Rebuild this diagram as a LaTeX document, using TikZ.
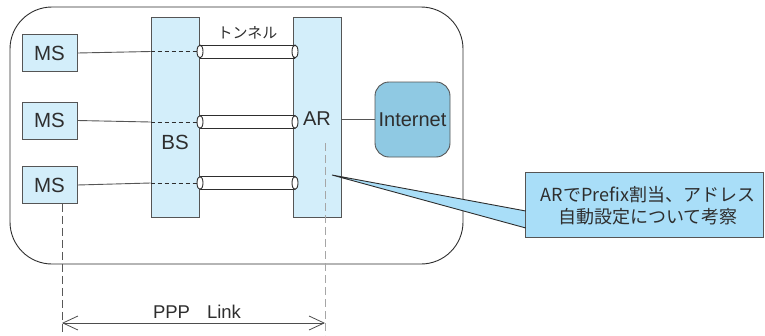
\documentclass[tikz,border=0pt]{standalone}
\usepackage{fontspec}
\setmainfont{Noto Sans CJK JP}
\newfontfamily\latin{Liberation Sans}
\usetikzlibrary{arrows.meta}
\definecolor{boxfill}{HTML}{D3EEFA}
\definecolor{netfill}{HTML}{8FC9E3}
\definecolor{notefill}{HTML}{A9DEF8}
\definecolor{edge}{HTML}{555555}
\definecolor{ink}{HTML}{2E2E2E}
\tikzset{
  lbl/.style={font=\latin\fontsize{20}{24}\selectfont, text=ink, inner sep=0pt},
  msbox/.style={draw=edge, line width=0.9pt, fill=boxfill, minimum width=55pt, minimum height=37pt, inner sep=0pt, font=\latin\fontsize{20.5}{24}\selectfont, text=ink},
  column/.style={draw=edge, line width=0.9pt, fill=boxfill, minimum width=48pt, minimum height=200pt, inner sep=0pt},
  wire/.style={draw=edge, line width=0.9pt},
  hidden/.style={draw=ink, line width=0.9pt, dash pattern=on 4pt off 3pt},
  tubeline/.style={draw=ink, line width=1pt},
  tubeend/.style={draw=ink, line width=0.9pt, fill=white},
  guide/.style={line width=0.8pt, dash pattern=on 8pt off 4pt},
  notetext/.style={inner sep=0pt, align=center, font=\fontsize{18}{22}\selectfont, text=ink},
}
\begin{document}
\begin{tikzpicture}[x=1pt, y=-1pt]
\useasboundingbox (0,0) rectangle (765,335);

% domain boundary
\draw[draw=ink, line width=0.9pt, rounded corners=42pt] (10,7) rectangle (463,264);

% base station and access router columns
\node[column] (bs) at (175,117.5) {};
\node[column] (ar) at (317,117) {};
\node[lbl, font=\latin\fontsize{20.5}{24}\selectfont] (bslabel) at (175,142) {BS};
\node[lbl] (arlabel) at (317,119) {AR};

% mobile stations
\node[msbox] (ms1) at (49.5,53) {MS};
\node[msbox] (ms2) at (49.5,120.5) {MS};
\node[msbox] (ms3) at (49.5,185) {MS};

% internet
\node[draw=edge, line width=0.9pt, fill=netfill, rounded corners=14pt, minimum width=75pt, minimum height=75pt, inner sep=0pt, font=\latin\fontsize{20}{24}\selectfont, text=ink] (net) at (412.5,119.5) {Internet};
\draw[wire] (ar.east |- arlabel) -- (net.west |- arlabel);

% tunnels between BS and AR
\foreach \i/\y in {1/51.5, 2/122, 3/183} {
  \coordinate (tl\i) at (200,\y);
  \coordinate (tr\i) at (295,\y);
  \draw[tubeline] ([yshift=-6.5pt]tl\i) -- ([yshift=-6.5pt]tr\i);
  \draw[tubeline] ([yshift=6.5pt]tl\i) -- ([yshift=6.5pt]tr\i);
  \draw[tubeend] (tr\i) ellipse (3pt and 6.5pt);
  \draw[tubeend] (tl\i) ellipse (3pt and 6.5pt);
}
\node[inner sep=0pt, font=\fontsize{15}{18}\selectfont, text=ink] (tunnel) at (247.5,33) {トンネル};

% links from each MS into the BS
\foreach \i in {1,2,3} {
  \draw[wire] (ms\i.east) -- (bs.west |- tl\i);
  \draw[hidden] (bs.west |- tl\i) -- ([xshift=-3pt]tl\i);
}

% PPP link extent
\coordinate (pppl) at (62,335);
\coordinate (pppr) at (325,335);
\draw[guide, draw=ink!80] (ms3.south -| pppl) -- (pppl);
\coordinate (artop) at (325,143);
\draw[guide, draw=gray!70] (artop) -- (pppr);
\coordinate (al) at (62,323);
\coordinate (arr) at (325,323);
\draw[draw=ink!85, line width=0.9pt, {Straight Barb[length=15pt,width=14pt,line width=0.8pt]}-{Straight Barb[length=15pt,width=14pt,line width=0.8pt]}] (al) -- (arr);
\node[lbl, font=\latin\fontsize{18.5}{22}\selectfont] (ppp) at (197,312) {PPP\hspace{17pt}Link};

% annotation callout
\node[inner sep=0pt, minimum width=237pt, minimum height=64pt] (note) at (644.5,205) {};
\coordinate (tip) at (332,175);
\fill[notefill] (note.north west) -- (note.north east) -- (note.south east) -- (note.south west) -- ([yshift=-6pt]note.west) -- (tip) -- ([yshift=-23pt]note.west) -- cycle;
\draw[draw=edge, line width=0.9pt] ([yshift=-23pt]note.west) -- (note.north west) -- (note.north east) -- (note.south east) -- (note.south west) -- ([yshift=-6pt]note.west);
\draw[draw=ink, line width=0.9pt] ([yshift=-23pt]note.west) -- (tip) -- ([yshift=-6pt]note.west);
\node[notetext] (notetxt) at (648,206) {ARでPrefix割当、アドレス\\自動設定について考察};
\end{tikzpicture}
\end{document}
